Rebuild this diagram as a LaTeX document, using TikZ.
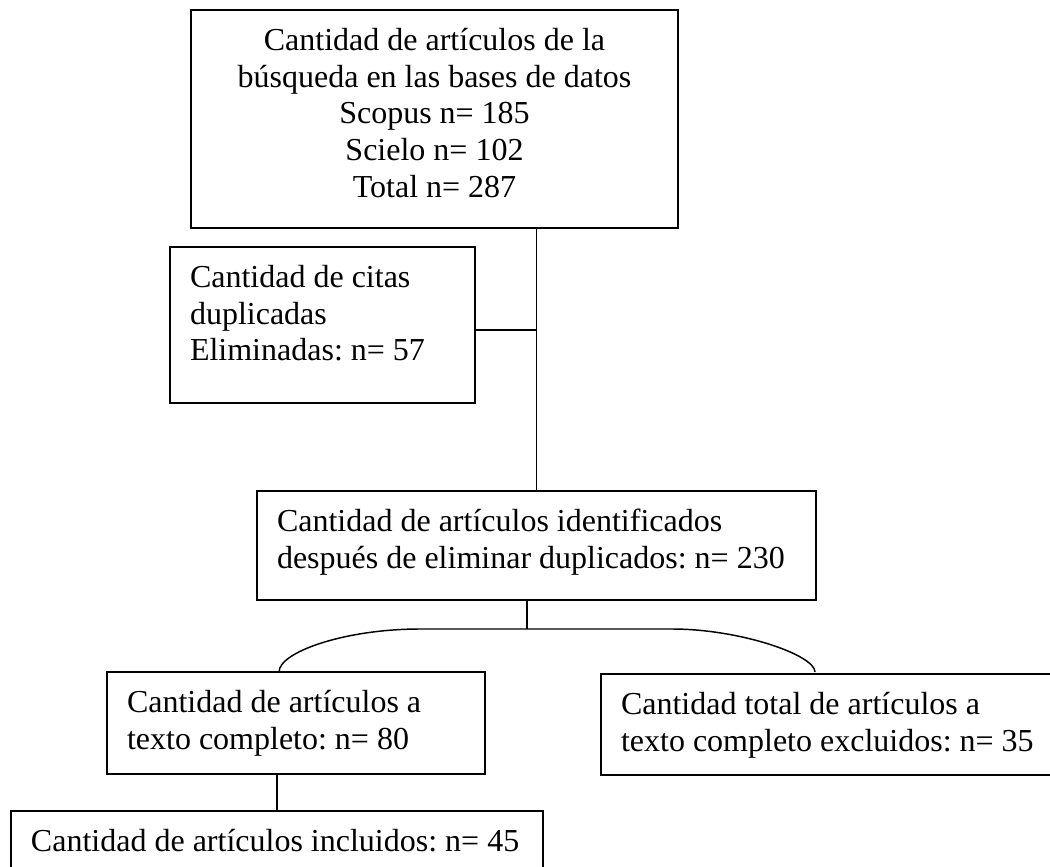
\documentclass[tikz,border=0pt]{standalone}
\usepackage{fontspec}
\setmainfont{Liberation Serif}
\frenchspacing
\newcommand\btext[3]{\parbox[c][#2][t]{#1}{\raggedright\strut #3}}
\newcommand\ctext[3]{\parbox[c][#2][t]{#1}{\centering\strut #3}}
\tikzset{
  box/.style={draw, line width=1.1pt, inner xsep=15pt, inner ysep=11.5pt,
    font=\fontsize{24pt}{27.4pt}\selectfont},
  link/.style={line width=1.1pt},
}
\begin{document}
\begin{tikzpicture}[x=0.75pt, y=-0.75pt]
\useasboundingbox (0,0) rectangle (1050,867);

\node[box] (top) at (434.5,119) {\ctext{335.25pt}{140.5pt}{Cantidad de artículos de la\\ búsqueda en las bases de datos\\ Scopus n= 185\\ Scielo n= 102\\ Total n= 287}};

\node[box] (dup) at (322.5,325) {\btext{198.75pt}{94pt}{Cantidad de citas\\ duplicadas\\ Eliminadas: n= 57}};

\node[box] (mid) at (536.5,545.5) {\btext{389.25pt}{58.75pt}{Cantidad de artículos identificados\\ después de eliminar duplicados: n= 230}};

\node[box] (full) at (296,723) {\btext{253.5pt}{53.5pt}{Cantidad de artículos a\\ texto completo: n= 80}};

\node[box] (excl) at (830.5,724.5) {\btext{314.25pt}{52.75pt}{Cantidad total de artículos a\\ texto completo excluidos: n= 35}};

\node[box] (incl) at (277,845.5) {\btext{369pt}{28.75pt}{Cantidad de artículos incluidos: n= 45}};

% connectors
\draw[link] (mid.north |- top.south) -- (mid.north);
\draw[link] ([yshift=-3.75pt]dup.east) coordinate (d1) -- (d1 -| mid.north);

\coordinate (fork) at (527,629);
\draw[link] (fork |- mid.south) -- (fork);

\coordinate (al) at (279,672);
\coordinate (ar) at (815,672);
\draw[link] (al) .. controls (279,652) and (345,629) .. (420,629) -- (672,629)
  .. controls (740,629) and (815,655) .. (ar);

\draw[link] (incl.north |- full.south) -- (incl.north);
\end{tikzpicture}
\end{document}
